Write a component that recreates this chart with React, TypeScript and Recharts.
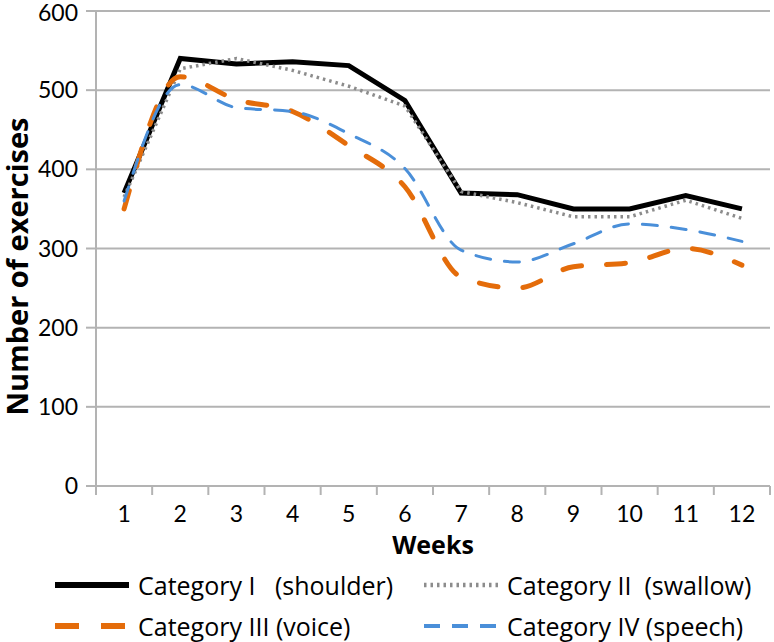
import { LineChart, Line, XAxis, YAxis, CartesianGrid } from 'recharts';

const weeks = [1, 2, 3, 4, 5, 6, 7, 8, 9, 10, 11, 12];
const shoulder = [370, 540, 533, 536, 531, 487, 370, 368, 350, 350, 367, 350];
const swallow = [365, 527, 540, 525, 505, 480, 372, 358, 340, 340, 361, 338];
const voice = [350, 517, 488, 473, 430, 378, 264, 250, 277, 282, 300, 279];
const speech = [360, 507, 478, 473, 445, 401, 298, 283, 306, 331, 324, 309];
const yTicks = [0, 100, 200, 300, 400, 500, 600];

const series = [
  { key: 'shoulder', name: 'Category I   (shoulder)', color: '#000000', width: 5, dash: undefined, cap: 'butt', curve: 'linear' },
  { key: 'swallow', name: 'Category II  (swallow)', color: '#8c8c8c', width: 3.5, dash: '2.5 4', cap: 'butt', curve: 'linear' },
  { key: 'voice', name: 'Category III (voice)', color: '#e46c0a', width: 5, dash: '19 25', cap: 'round', curve: 'monotone' },
  { key: 'speech', name: 'Category IV (speech)', color: '#4a8fd9', width: 3, dash: '15 14', cap: 'round', curve: 'monotone' },
] as const;

const data = weeks.map((w, i) => ({
  week: w,
  shoulder: shoulder[i],
  swallow: swallow[i],
  voice: voice[i],
  speech: speech[i],
}));

const FONT = 'Lato, "Noto Sans", sans-serif';
const WIDE = '"Open Sans", Lato, sans-serif';

// short grey tick between two weeks (Excel puts the marks on the category edges)
const EdgeTick = (props: any) => {
  const { x, y } = props;
  return <line x1={x} y1={y - 9} x2={x} y2={y} stroke="#b3b3b3" strokeWidth={2} />;
};

export default function App() {
  return (
    <div style={{ position: 'absolute', left: 0, top: 0, width: 774, height: 642, background: '#fff', fontFamily: FONT }}>
      <LineChart width={774} height={642} data={data} margin={{ top: 11, right: 4, left: 10, bottom: 0 }}>
        <CartesianGrid horizontal vertical={false} stroke="#b3b3b3" strokeWidth={2} />
        <XAxis
          xAxisId="bounds"
          type="number"
          dataKey="week"
          domain={[0.5, 12.5]}
          ticks={weeks.map((w) => w - 0.5).concat([12.5])}
          interval={0}
          tick={<EdgeTick />}
          tickSize={9}
          tickMargin={0}
          tickLine={false}
          axisLine={{ stroke: '#b3b3b3', strokeWidth: 2 }}
          height={1}
        />
        <XAxis
          xAxisId="labels"
          type="number"
          dataKey="week"
          domain={[0.5, 12.5]}
          ticks={weeks}
          interval={0}
          tickLine={false}
          axisLine={false}
          tickSize={8}
          tickMargin={11}
          tick={{ fill: '#000', fontSize: 23, fontFamily: FONT }}
          height={155}
          label={{ value: 'Weeks', position: 'insideTop', offset: 49, fill: '#000', fontSize: 25, fontWeight: 700, fontFamily: WIDE }}
        />
        <YAxis
          domain={[0, 600]}
          ticks={yTicks}
          width={86}
          tickSize={10}
          tickMargin={8}
          tick={{ fill: '#000', fontSize: 23, fontFamily: FONT }}
          tickLine={{ stroke: '#b3b3b3', strokeWidth: 2 }}
          axisLine={{ stroke: '#b3b3b3', strokeWidth: 2 }}
          label={{ value: 'Number of exercises', angle: -90, position: 'center', dx: -35, dy: 18, fill: '#000', fontSize: 29, fontWeight: 700, fontFamily: WIDE }}
        />
        {series.map((s) => (
          <Line
            key={s.key}
            xAxisId="bounds"
            dataKey={s.key}
            name={s.name}
            type={s.curve}
            stroke={s.color}
            strokeWidth={s.width}
            strokeDasharray={s.dash}
            strokeLinecap={s.cap}
            dot={false}
            activeDot={false}
            isAnimationActive={false}
          />
        ))}
      </LineChart>
      <div
        style={{
          position: 'absolute',
          left: 53,
          top: 564,
          display: 'grid',
          gridTemplateColumns: '369px 352px',
          gridAutoRows: 41,
          fontSize: 25,
          fontFamily: WIDE,
          color: '#000',
        }}
      >
        {series.map((s) => (
          <div key={s.key} style={{ display: 'flex', alignItems: 'center', whiteSpace: 'pre' }}>
            <svg width={80} height={12} style={{ marginRight: 5, flexShrink: 0 }}>
              <line
                x1={2}
                y1={6}
                x2={76}
                y2={6}
                stroke={s.color}
                strokeWidth={s.width + 1}
                strokeDasharray={s.key === 'voice' ? '24 22' : s.key === 'speech' ? '16 12' : s.dash}
              />
            </svg>
            <span>{s.name}</span>
          </div>
        ))}
      </div>
    </div>
  );
}
